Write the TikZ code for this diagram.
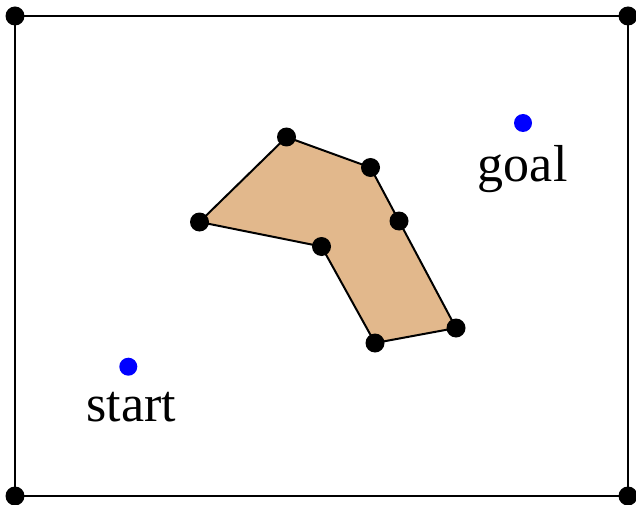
\documentclass[tikz,border=0pt]{standalone}
\usepackage{fontspec}
\setmainfont{Liberation Serif}
\definecolor{obst}{RGB}{226,184,140}
\begin{document}
\begin{tikzpicture}[x=1pt,y=-1pt,
  vtx/.style={circle,fill=black,inner sep=0pt,minimum size=19pt},
  pt/.style={circle,fill=blue,inner sep=0pt,minimum size=18pt},
  lbl/.style={anchor=base,inner sep=0pt,font=\fontsize{52}{60}\selectfont},
  edge/.style={line width=2pt,black}]
\useasboundingbox (0,0) rectangle (636,505);
% outer boundary
\coordinate (c1) at (15,16);
\coordinate (c2) at (628,16);
\coordinate (c3) at (628,496);
\coordinate (c4) at (15,496);
\draw[edge] (c1) -- (c2) -- (c3) -- (c4) -- cycle;
% obstacle
\coordinate (p1) at (199.5,222);
\coordinate (p2) at (286.5,137);
\coordinate (p3) at (370.5,167.5);
\coordinate (p4) at (399,221);
\coordinate (p5) at (456,328);
\coordinate (p6) at (375,343);
\coordinate (p7) at (321.5,246.5);
\filldraw[edge,fill=obst] (p1) -- (p2) -- (p3) -- (p4) -- (p5) -- (p6) -- (p7) -- cycle;
\foreach \c in {c1,c2,c3,c4,p1,p2,p3,p4,p5,p6,p7}
  \node[vtx] (v\c) at (\c) {};
% start and goal
\node[pt] (s) at (128.3,366.7) {};
\node[pt] (g) at (523,123) {};
\node[lbl] (st) at (131.3,421.5) {start};
\node[lbl] (gl) at (522.7,181.5) {goal};
\end{tikzpicture}
\end{document}
